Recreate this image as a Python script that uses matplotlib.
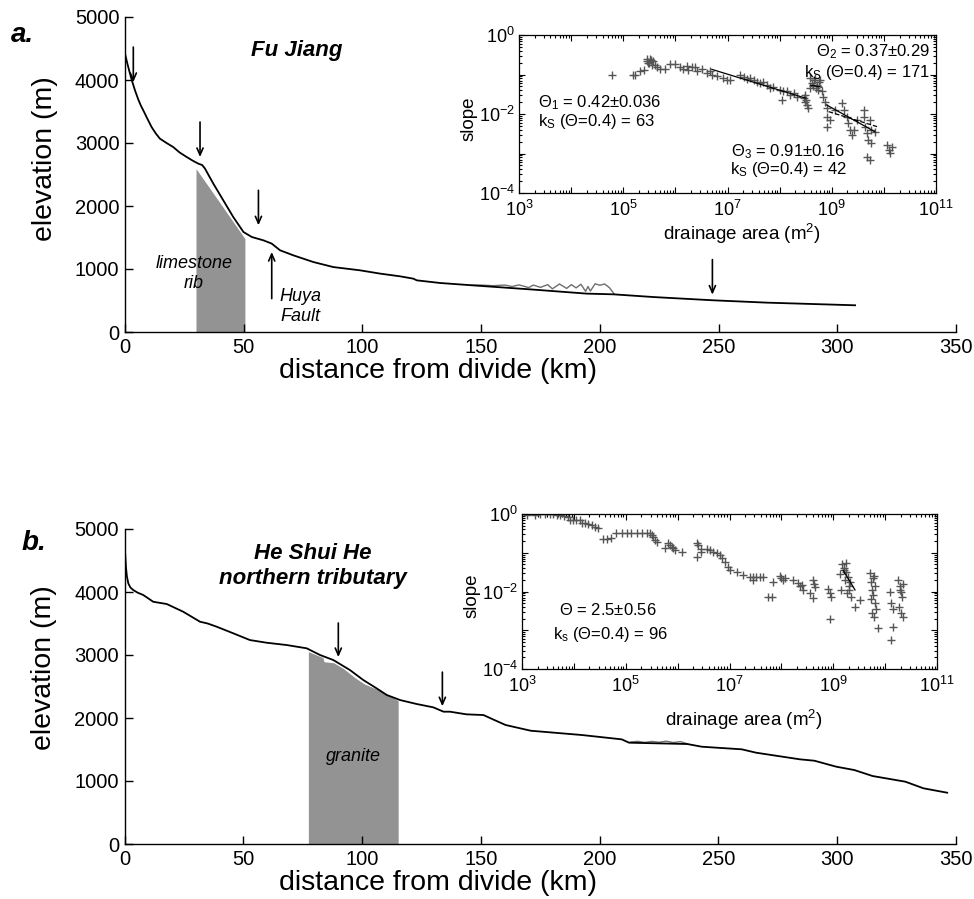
import matplotlib

matplotlib.use("Agg")

import matplotlib.pyplot as plt
import numpy as np
from matplotlib.ticker import LogLocator, NullFormatter

plt.rcParams["font.family"] = ["Liberation Sans", "DejaVu Sans"]
plt.rcParams["mathtext.fontset"] = "custom"
plt.rcParams["mathtext.rm"] = "Liberation Sans"
plt.rcParams["mathtext.it"] = "Liberation Sans:italic"
plt.rcParams["mathtext.bf"] = "Liberation Sans:bold"

# Fu Jiang long profile (km, m)
fu_dist = [0, 1.0, 2.1, 3.0, 4.2, 5.5, 6.6, 7.7, 9.5, 11.2, 13.0, 14.7, 17.5,
           20.3, 23.0, 26.0, 28.5, 30.9, 32.5, 33.7, 35.5, 37.2, 41.4, 45.6,
           49.9, 53.4, 58.3, 61.8, 65.3, 70.9, 79.3, 87.7, 99.0, 107.4,
           115.8, 121.4, 122.9, 132.7, 148.1, 172.0, 194.5, 205.7, 222.5,
           247.8, 270.3, 307.5]
fu_elev = [4418, 4260, 4101, 3980, 3836, 3700, 3600, 3518, 3380, 3253, 3150,
           3069, 3000, 2936, 2850, 2777, 2720, 2672, 2650, 2593, 2470, 2355,
           2090, 1825, 1587, 1508, 1455, 1403, 1297, 1217, 1111, 1031, 979,
           927, 884, 847, 820, 778, 736, 673, 609, 598, 555, 503, 466, 424]

# noisy raw DEM segment drawn in grey
fu_raw_dist = [146, 150, 155, 160, 163, 166, 170, 172, 175, 178, 180, 183,
               186, 188, 190, 192, 194, 195, 196, 198, 200, 202, 204, 206]
fu_raw_elev = [742, 745, 735, 745, 722, 748, 705, 745, 708, 752, 685, 762,
               692, 752, 700, 758, 645, 722, 650, 765, 742, 762, 705, 605]

# limestone rib outline
rib_dist = [29.9, 40.0, 50.5]
rib_top = [2593, 2050, 1482]

# He Shui He northern tributary long profile (km, m)
hs_dist = [0, 0.3, 0.6, 1.0, 1.6, 2.5, 3.7, 5.5, 7.9, 12.1, 17.8, 24.7, 31.8,
           35.0, 38.8, 45.8, 52.8, 59.8, 68.3, 76.7, 82.3, 87.9, 94.9, 100.5,
           106.1, 110.4, 116.0, 123.0, 130.0, 134.3, 137.0, 144.0, 151.1,
           155.7, 160.4, 171.0, 192.5, 209.3, 212.4, 236.9, 243.0, 259.8,
           265.9, 284.3, 290.4, 299.6, 307.2, 314.9, 328.7, 336.3, 346.3]
hs_elev = [4745, 4600, 4401, 4250, 4137, 4070, 4031, 3990, 3952, 3845, 3809,
           3687, 3528, 3500, 3449, 3344, 3237, 3195, 3158, 3106, 3000, 2920,
           2761, 2603, 2471, 2365, 2285, 2222, 2169, 2100, 2100, 2058, 2047,
           1968, 1889, 1798, 1730, 1661, 1608, 1587, 1544, 1503, 1449, 1344,
           1322, 1227, 1174, 1079, 989, 884, 814]

hs_raw_dist = [213, 216, 219, 222, 225, 228, 231, 234, 237]
hs_raw_elev = [1618, 1630, 1612, 1628, 1615, 1632, 1610, 1625, 1590]

# granite outline
granite_dist = [77.4, 83.5, 84.0, 88.0, 92.0, 97.0, 101.0, 106.0, 110.0, 115.2]
granite_top = [3052, 2960, 2893, 2877, 2790, 2640, 2540, 2460, 2390, 2274]

# knickpoint arrows: x, tail, head (m)
fu_arrows = [(3.5, 4523, 3968), (31.6, 3333, 2777),
             (56.2, 2249, 1693), (247.4, 1149, 593)]
fu_fault_arrow = (61.8, 530, 1270)
hs_arrows = [(90.0, 3508, 2967), (133.8, 2728, 2186)]

# slope-area data, log10 values
fu_logA = [4.78, 5.19, 5.23, 5.32, 5.39, 5.45, 5.48, 5.51, 5.55, 5.58, 5.61, 5.64, 5.50, 5.53, 5.46,
           5.71, 5.80, 5.90, 5.99, 6.09, 6.15, 6.22, 6.25, 6.31, 6.38, 6.41, 6.51, 6.60, 6.67, 6.70, 6.79, 6.92, 6.99,
           7.05, 7.24, 7.31, 7.37, 7.43, 7.50, 7.56, 7.63, 7.69, 7.75, 7.82, 7.88, 8.01, 8.07, 8.04, 8.14, 8.20, 8.27, 8.33,
           8.49, 8.49, 8.52, 8.55, 8.47, 8.51,
           8.59, 8.62, 8.59, 8.65, 8.71, 8.78, 8.74, 8.81, 8.68, 8.75, 8.64, 8.70, 8.84, 8.87, 8.91, 8.91, 8.91, 8.97,
           9.07, 9.19, 9.23, 9.29, 9.32, 9.35, 9.38, 9.42, 9.48, 9.61, 9.62, 9.64, 9.67, 9.70, 9.73, 9.76, 9.76, 9.67, 9.73, 9.83,
           10.06, 10.09, 10.12, 10.15]
fu_logS = [-1.00, -1.00, -1.00, -0.90, -0.89, -0.67, -0.72, -0.62, -0.76, -0.65, -0.76, -0.80, -0.70, -0.63, -0.62,
           -0.87, -0.87, -0.74, -0.74, -0.82, -0.87, -0.78, -0.89, -0.82, -0.80, -0.90, -0.87, -0.95, -0.90, -1.01, -1.04, -1.10, -1.14,
           -1.14, -1.01, -1.06, -1.12, -1.10, -1.14, -1.18, -1.22, -1.18, -1.27, -1.35, -1.31, -1.39, -1.43, -1.65, -1.43, -1.52, -1.48, -1.56,
           -1.52, -1.69, -1.77, -1.86, -1.60, -1.64,
           -1.10, -1.22, -1.35, -1.14, -1.27, -1.14, -1.39, -1.43, -1.08, -1.20, -1.30, -1.33, -1.56, -1.69, -1.86, -2.07, -2.32, -2.15,
           -1.90, -1.73, -1.90, -2.07, -2.24, -2.41, -2.53, -2.41, -2.15, -1.90, -2.07, -2.32, -2.49, -2.66, -2.15, -2.41, -2.74, -3.08, -3.16, -2.45,
           -2.78, -2.91, -2.99, -2.83]

# regression segments (logA pairs, logS pairs, style)
fu_fits = [([6.70, 8.50], [-0.87, -1.60], "-"),
           ([8.59, 8.81], [-1.27, -1.32], "-"),
           ([8.90, 9.83], [-1.77, -2.45], "-"),
           ([8.94, 9.87], [-1.94, -2.32], "--")]

hs_logA = [3.09, 3.25, 3.35, 3.44, 3.54, 3.60, 3.67, 3.73, 3.80, 3.89,
           3.92, 3.99, 4.05, 4.12, 4.15, 4.21, 4.28, 4.34, 4.41, 4.47,
           4.57, 4.64, 4.71, 4.82, 4.92, 5.02, 5.11, 5.21, 5.31, 5.40, 5.47,
           5.50, 5.53, 5.56, 5.60, 5.76, 5.82, 5.86, 5.89, 5.92, 5.95, 6.08,
           6.37, 6.40, 6.37, 6.46, 6.46, 6.56, 6.62, 6.69, 6.75, 6.81, 6.85, 6.91, 6.98, 7.01,
           7.14, 7.26, 7.39, 7.46, 7.52, 7.58, 7.65, 7.46, 7.75, 7.81, 7.84, 7.97, 8.00, 8.04, 8.07, 8.23,
           8.32, 8.36, 8.39, 8.42, 8.55, 8.61, 8.63, 8.65, 8.61, 8.90, 8.93, 8.95, 8.93,
           9.13, 9.17, 9.20, 9.22, 9.25, 9.28, 9.30, 9.33, 9.15, 9.24, 9.27, 9.35, 9.42, 9.51, 9.20, 9.30,
           9.71, 9.73, 9.75, 9.77, 9.79, 9.81, 9.83, 9.74, 9.78, 9.80, 9.87, 9.72, 9.76,
           10.09, 10.12, 10.15, 10.12, 10.15, 10.25, 10.28, 10.30, 10.32, 10.35, 10.27, 10.31, 10.34, 10.29]
hs_logS = [-0.03, -0.03, 0.0, 0.0, 0.0, 0.0, -0.02, -0.03, -0.05, -0.07,
           -0.15, -0.15, -0.15, -0.15, -0.22, -0.24, -0.26, -0.28, -0.33, -0.37,
           -0.65, -0.65, -0.62, -0.48, -0.48, -0.48, -0.48, -0.48, -0.48, -0.48, -0.48,
           -0.54, -0.60, -0.67, -0.71, -0.89, -0.76, -0.80, -0.84, -0.88, -0.93, -0.97,
           -0.76, -0.80, -1.10, -0.97, -0.91, -0.91, -0.93, -0.97, -1.01, -1.06, -1.14, -1.23, -1.36, -1.45,
           -1.49, -1.57, -1.62, -1.62, -1.63, -1.63, -1.63, -1.70, -2.13, -2.13, -1.75, -1.60, -1.66, -1.70, -1.64, -1.70,
           -1.79, -1.86, -1.82, -1.96, -2.03, -1.70, -1.80, -1.89, -2.18, -1.94, -2.03, -2.13, -2.72,
           -1.55, -1.30, -1.45, -1.70, -1.50, -1.62, -1.85, -1.75, -1.95, -1.27, -2.05, -2.13, -2.39, -2.22, -1.40, -1.95,
           -1.53, -1.75, -1.95, -2.10, -1.60, -2.30, -2.45, -2.55, -2.65, -1.85, -2.95, -2.20, -1.65,
           -2.00, -2.30, -2.45, -3.25, -2.91, -1.70, -1.85, -2.00, -2.15, -1.80, -2.40, -2.55, -2.65, -1.95]

hs_fits = [([9.19, 9.42], [-1.45, -1.96], "-")]

dist_ticks = [0, 50, 100, 150, 200, 250, 300, 350]
elev_ticks = [0, 1000, 2000, 3000, 4000, 5000]

W, H = 974, 899
FILL = "#939393"
MARK = "#555555"


def rect(left, top, right, bottom):
    # pixel box -> figure fraction
    return [left / W, 1 - bottom / H, (right - left) / W, (bottom - top) / H]


def profile_axes(fig, box, dist, elev, raw_dist, raw_elev, fill_dist, fill_top, ylab_y):

    ax = fig.add_axes(rect(*box))

    ax.fill_between(fill_dist, 0, fill_top, color=FILL, lw=0, zorder=1)

    ax.plot(raw_dist, raw_elev, color="#6e6e6e", lw=1.0, zorder=2)
    ax.plot(dist, elev, color="black", lw=1.3, zorder=3)

    ax.set_xlim(0, 350)
    ax.set_ylim(0, 5000)
    ax.set_xticks(dist_ticks)
    ax.set_yticks(elev_ticks)

    ax.spines["top"].set_visible(False)
    ax.spines["right"].set_visible(False)
    ax.spines["left"].set_linewidth(1.0)
    ax.spines["bottom"].set_linewidth(1.0)

    ax.tick_params(direction="in", length=6, width=1.0, labelsize=14.5, pad=4)

    ax.set_xlabel("distance from divide (km)", fontsize=20.5)
    ax.xaxis.set_label_coords(0.377, -0.083)
    ax.set_ylabel("elevation (m)", fontsize=20.5)
    ax.yaxis.set_label_coords(-0.081, ylab_y)

    return ax


def arrow(ax, x, tail, head):

    ax.annotate(
        "",
        xy=(x, head),
        xytext=(x, tail),
        arrowprops=dict(arrowstyle="->,head_length=0.5,head_width=0.22",
                        lw=1.2, color="black", shrinkA=0, shrinkB=0),
        zorder=4,
    )


def slope_area_axes(fig, box, logA, logS, fits, xlab_y):

    ax = fig.add_axes(rect(*box))

    ax.set_xscale("log")
    ax.set_yscale("log")

    ax.plot(np.power(10.0, logA), np.power(10.0, logS), "+",
            color=MARK, ms=6, mew=1.0, zorder=2)

    for fa, fs, ls in fits:
        ax.plot(np.power(10.0, fa), np.power(10.0, fs), ls,
                color="black", lw=0.9, zorder=3)

    ax.set_xlim(1e3, 1e11)
    ax.set_ylim(1e-4, 1e0)

    xt = [10.0 ** k for k in range(3, 12)]
    ax.set_xticks(xt)
    ax.set_xticklabels(["$10^{%d}$" % k if k % 2 == 1 else "" for k in range(3, 12)])

    yt = [10.0 ** k for k in range(-4, 1)]
    ax.set_yticks(yt)
    ax.set_yticklabels(["$10^{%d}$" % k if k % 2 == 0 else "" for k in range(-4, 1)])

    ax.xaxis.set_minor_locator(LogLocator(base=10, subs=np.arange(2, 10), numticks=100))
    ax.yaxis.set_minor_locator(LogLocator(base=10, subs=np.arange(2, 10), numticks=100))
    ax.xaxis.set_minor_formatter(NullFormatter())
    ax.yaxis.set_minor_formatter(NullFormatter())

    ax.tick_params(which="both", direction="in", top=True, right=True,
                   labelsize=13, width=0.8)
    ax.tick_params(which="major", length=4)
    ax.tick_params(axis="x", which="major", pad=5)
    ax.tick_params(axis="y", which="major", pad=3)
    ax.tick_params(which="minor", length=2)

    for sp in ax.spines.values():
        sp.set_linewidth(0.9)

    ax.set_xlabel("drainage area (m$^2$)", fontsize=13.5)
    ax.xaxis.set_label_coords(0.534, xlab_y)
    ax.set_ylabel("slope", fontsize=13.5)
    ax.yaxis.set_label_coords(-0.10, 0.47)

    return ax


fig = plt.figure(figsize=(W / 100, H / 100), dpi=100)

# panel a: Fu Jiang
ax_a = profile_axes(fig, (125, 17, 956, 332), fu_dist, fu_elev,
                    fu_raw_dist, fu_raw_elev, rib_dist, rib_top, 0.55)

for x, tail, head in fu_arrows:
    arrow(ax_a, x, tail, head)
arrow(ax_a, *fu_fault_arrow)

ax_a.text(72.4, 4471, "Fu Jiang", fontsize=16, fontweight="bold",
          fontstyle="italic", ha="center", va="center")
ax_a.text(29.1, 930, "limestone\nrib", fontsize=13, fontstyle="italic",
          ha="center", va="center", linespacing=1.25)
ax_a.text(74.1, 400, "Huya\nFault", fontsize=13, fontstyle="italic",
          ha="center", va="center", linespacing=1.25)

fig.text(22 / W, 1 - 35 / H, "a.", fontsize=20, fontweight="bold",
         fontstyle="italic", ha="center", va="center")

ins_a = slope_area_axes(fig, (519, 35, 936, 193), fu_logA, fu_logS, fu_fits, -0.185)

ins_a.text(0.046, 0.57, r"$\Theta_1$ = 0.42$\pm$0.036", transform=ins_a.transAxes,
           fontsize=12, ha="left", va="center")
ins_a.text(0.046, 0.45, r"k$_\mathrm{S}$ ($\Theta$=0.4) = 63", transform=ins_a.transAxes,
           fontsize=12, ha="left", va="center")
ins_a.text(0.985, 0.894, r"$\Theta_2$ = 0.37$\pm$0.29", transform=ins_a.transAxes,
           fontsize=12, ha="right", va="center")
ins_a.text(0.985, 0.761, r"k$_\mathrm{S}$ ($\Theta$=0.4) = 171", transform=ins_a.transAxes,
           fontsize=12, ha="right", va="center")
ins_a.text(0.645, 0.262, r"$\Theta_3$ = 0.91$\pm$0.16", transform=ins_a.transAxes,
           fontsize=12, ha="center", va="center")
ins_a.text(0.645, 0.146, r"k$_\mathrm{S}$ ($\Theta$=0.4) = 42", transform=ins_a.transAxes,
           fontsize=12, ha="center", va="center")

# panel b: He Shui He
ax_b = profile_axes(fig, (124.5, 529, 956, 844), hs_dist, hs_elev,
                    hs_raw_dist, hs_raw_elev, granite_dist, granite_top, 0.56)

for x, tail, head in hs_arrows:
    arrow(ax_b, x, tail, head)

ax_b.text(79.3, 4412, "He Shui He\nnorthern tributary", fontsize=16,
          fontweight="bold", fontstyle="italic", ha="center", va="center",
          linespacing=1.25)
ax_b.text(96.2, 1386, "granite", fontsize=13, fontstyle="italic",
          ha="center", va="center")

fig.text(34 / W, 1 - 543 / H, "b.", fontsize=20, fontweight="bold",
         fontstyle="italic", ha="center", va="center")

ins_b = slope_area_axes(fig, (522, 514, 937, 669), hs_logA, hs_logS, hs_fits, -0.25)

ins_b.text(0.206, 0.38, r"$\Theta$ = 2.5$\pm$0.56", transform=ins_b.transAxes,
           fontsize=12, ha="center", va="center")
ins_b.text(0.212, 0.22, r"k$_\mathrm{s}$ ($\Theta$=0.4) = 96", transform=ins_b.transAxes,
           fontsize=12, ha="center", va="center")

fig.savefig("out.png", dpi=100)
